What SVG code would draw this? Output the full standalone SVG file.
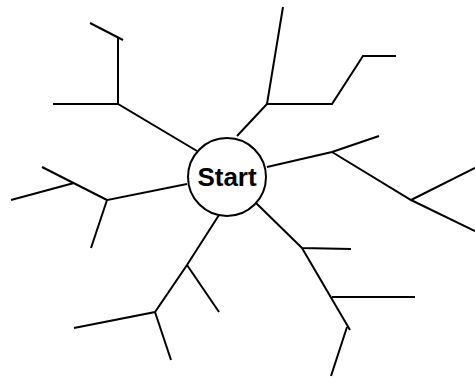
<svg xmlns="http://www.w3.org/2000/svg" width="475" height="378" viewBox="0 0 475 378">
<style>
.l{fill:none;stroke:#000;stroke-width:2;stroke-linecap:butt;stroke-linejoin:miter}
.n{fill:#fff;stroke:#000;stroke-width:2}
.t{font-family:"Liberation Sans",Arial,sans-serif;font-weight:bold;font-size:26px;fill:#000;text-anchor:middle}
</style>
<rect width="475" height="378" fill="#fff"/>
<g id="connectors">
<polyline class="l" points="197,151 118,104 53,104"/>
<polyline class="l" points="118,104 118,38"/>
<polyline class="l" points="90,23 123,40"/>
<polyline class="l" points="237,136 267,104 283,7"/>
<polyline class="l" points="267,104 332,104 363,56 396,56"/>
<polyline class="l" points="267,167 332,152 379,136"/>
<polyline class="l" points="332,152 411,200 475,168"/>
<polyline class="l" points="411,200 475,231"/>
<polyline class="l" points="187,184 107,200 91,248"/>
<polyline class="l" points="107,200 42,167"/>
<polyline class="l" points="74,183 11,200"/>
<polyline class="l" points="219,215 187,265 155,312 74,328"/>
<polyline class="l" points="187,265 219,312"/>
<polyline class="l" points="155,312 171,360"/>
<polyline class="l" points="256,203 302,248 351,249"/>
<polyline class="l" points="302,248 350,330"/>
<polyline class="l" points="347,327 331,376"/>
<polyline class="l" points="332,297 415,297"/>
</g>
<g id="node-start">
<circle class="n" cx="227" cy="177" r="39"/>
<text class="t" x="227" y="186">Start</text>
</g>
</svg>
